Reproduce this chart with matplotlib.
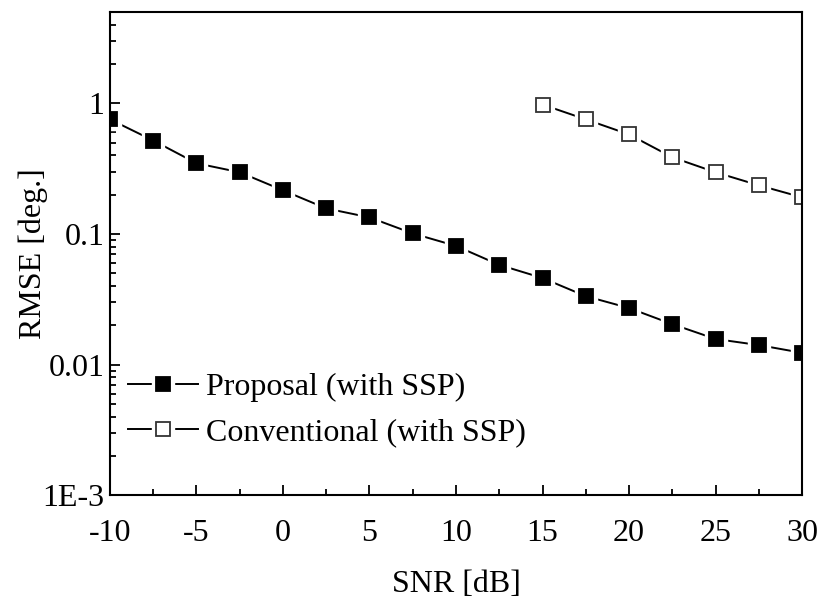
import matplotlib
matplotlib.use('Agg')
import matplotlib.pyplot as plt
import matplotlib.ticker as mticker
from matplotlib.legend_handler import HandlerTuple
import numpy as np

plt.rcParams['font.family'] = ['Liberation Serif', 'DejaVu Serif']

snr_proposal = [-10, -7.5, -5, -2.5, 0, 2.5, 5, 7.5, 10, 12.5, 15, 17.5, 20, 22.5, 25, 27.5, 30]
rmse_proposal = [0.755, 0.52, 0.348, 0.297, 0.216, 0.157, 0.134, 0.101, 0.081, 0.058,
                 0.046, 0.0334, 0.0271, 0.0204, 0.0157, 0.0141, 0.0123]

snr_conventional = [15, 17.5, 20, 22.5, 25, 27.5, 30]
rmse_conventional = [0.98, 0.755, 0.579, 0.387, 0.297, 0.236, 0.191]

x_ticks = [-10, -5, 0, 5, 10, 15, 20, 25, 30]
y_ticks = [1e-3, 1e-2, 1e-1, 1]
y_tick_labels = ['1E-3', '0.01', '0.1', '1']

FS = 23
MS = 10.5


def series(ax, x, y, face, edge, label):
    # line, a white halo square to leave a gap, then the actual marker
    ln, = ax.plot(x, y, '-', color='black', linewidth=1.4)
    halo, = ax.plot(x, y, 's', color='white', markersize=MS + 5, linestyle='none')
    mk, = ax.plot(x, y, 's', markersize=MS, markerfacecolor=face,
                  markeredgecolor=edge, markeredgewidth=1.3, linestyle='none')
    return (ln, halo, mk), label


fig = plt.figure(figsize=(8.22, 6.09), dpi=100)
ax = fig.add_axes([0.1338, 0.187, 0.8419, 0.793])

h1, l1 = series(ax, snr_proposal, rmse_proposal, 'black', 'black', 'Proposal (with SSP)')
h2, l2 = series(ax, snr_conventional, rmse_conventional, 'white', '#333333',
                'Conventional (with SSP)')

ax.set_yscale('log')
ax.set_xlim(-10, 30)
ax.set_ylim(1e-3, 5)

ax.set_xticks(x_ticks)
ax.set_xticklabels([str(v) for v in x_ticks])
ax.xaxis.set_minor_locator(mticker.MultipleLocator(2.5))
ax.set_yticks(y_ticks)
ax.set_yticklabels(y_tick_labels)
ax.yaxis.set_minor_locator(mticker.LogLocator(base=10, subs=np.arange(2, 10)))
ax.yaxis.set_minor_formatter(mticker.NullFormatter())

ax.tick_params(which='both', direction='in', top=False, right=False,
               labelsize=FS, width=1.3)
ax.tick_params(which='major', length=7)
ax.tick_params(which='minor', length=4)
ax.tick_params(axis='x', which='major', pad=17)
ax.tick_params(axis='y', which='major', pad=4)

for s in ax.spines.values():
    s.set_linewidth(1.5)

ax.set_xlabel('SNR [dB]', fontsize=FS, labelpad=16)
ax.set_ylabel('RMSE [deg.]', fontsize=FS, labelpad=-4)

ax.legend([h1, h2], [l1, l2], handler_map={tuple: HandlerTuple(ndivide=1)},
          loc='lower left', bbox_to_anchor=(0.0, 0.063), frameon=False,
          fontsize=FS, handlelength=2.2, handletextpad=0.25, labelspacing=0.5,
          borderaxespad=0.15)

fig.savefig('out.png', dpi=100, facecolor='white')
